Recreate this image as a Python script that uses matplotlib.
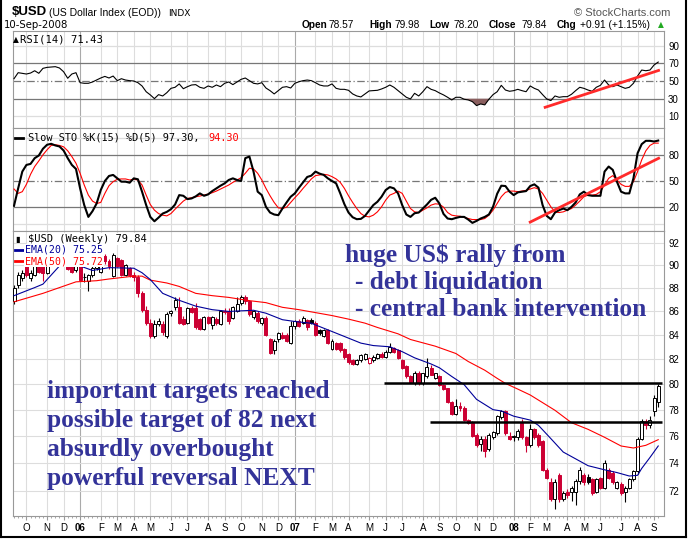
import numpy as np
import pandas as pd
import matplotlib
matplotlib.use("Agg")
import matplotlib.pyplot as plt
from matplotlib.lines import Line2D
from matplotlib.ticker import FixedLocator, FixedFormatter, NullLocator

# weekly $USD candles, week of 12-Sep-2005 .. week of 8-Sep-2008
opens = [86.8, 88.25, 88.8, 90.0, 88.8, 89.1, 90.0, 90.0, 89.3, 90.8,
         91.7, 91.9, 90.9, 90.2, 89.9, 89.5, 91.1, 88.9, 88.55, 89.1,
         89.7, 89.4, 90.8, 90.3, 89.0, 90.6, 90.45, 89.1, 89.7, 89.1,
         88.9, 87.5, 86.1, 85.0, 83.9, 84.9, 84.9, 83.9, 85.8, 86.3,
         86.3, 85.3, 85.0, 86.2, 86.2, 85.3, 84.5, 85.5, 84.8, 85.3,
         84.9, 86.0, 86.0, 85.4, 86.0, 86.7, 87.2, 86.8, 85.5, 85.8,
         85.0, 85.4, 83.6, 82.7, 83.6, 84.0, 84.0, 83.3, 84.7, 85.1,
         85.0, 85.2, 85.2, 85.0, 84.4, 83.9, 84.4, 82.8, 83.3, 83.3,
         82.8, 82.4, 81.9, 81.6, 81.9, 82.0, 81.7, 81.95, 82.1, 82.45,
         82.2, 82.6, 82.9, 82.7, 81.95, 81.4, 80.6, 80.05, 80.9, 80.05,
         80.6, 81.3, 80.45, 80.6, 79.9, 79.65, 78.6, 77.7, 78.3, 78.1,
         77.2, 77.0, 76.1, 75.4, 75.8, 75.0, 75.9, 76.2, 77.4, 77.9,
         76.0, 75.95, 75.9, 77.0, 75.9, 75.35, 76.5, 76.1, 75.6, 73.5,
         72.6, 71.4, 73.1, 71.4, 71.9, 71.9, 71.9, 72.7, 73.1, 73.0,
         72.8, 71.9, 72.9, 72.2, 73.5, 73.3, 72.2, 72.5, 71.9, 72.2,
         72.8, 73.4, 75.8, 77.1, 76.8, 77.9, 78.57]
highs = [88.2, 89.4, 89.5, 90.2, 89.5, 90.8, 90.5, 90.2, 91.0, 91.9,
         92.6, 92.1, 91.1, 90.4, 90.3, 91.3, 91.2, 89.3, 89.2, 89.9,
         90.45, 90.9, 91.0, 90.5, 91.05, 90.7, 90.5, 90.1, 89.8, 89.4,
         89.1, 87.7, 86.4, 85.3, 85.2, 85.4, 85.1, 85.9, 86.1, 87.2,
         87.2, 85.6, 86.3, 86.4, 86.7, 85.4, 85.6, 85.6, 85.6, 85.5,
         86.1, 86.2, 86.2, 86.4, 87.2, 87.4, 87.4, 86.9, 86.1, 86.0,
         85.5, 85.6, 83.7, 83.6, 84.2, 84.2, 84.1, 85.1, 85.2, 85.3,
         85.6, 85.3, 85.4, 85.1, 84.5, 84.5, 84.5, 83.6, 83.4, 83.4,
         82.9, 82.5, 82.0, 82.0, 82.4, 82.5, 82.2, 82.3, 82.5, 82.6,
         82.7, 83.3, 83.0, 82.8, 82.0, 81.5, 80.7, 81.0, 81.0, 80.9,
         82.1, 81.5, 80.9, 80.7, 80.0, 79.7, 78.7, 78.8, 78.6, 78.3,
         77.3, 77.1, 76.2, 76.0, 76.0, 76.2, 76.4, 77.6, 78.0, 78.0,
         76.3, 76.1, 76.5, 77.3, 76.0, 76.9, 76.6, 76.2, 75.7, 73.6,
         72.9, 72.8, 73.3, 72.0, 72.1, 72.3, 72.8, 73.7, 73.3, 73.2,
         72.9, 72.9, 73.0, 74.2, 73.6, 73.4, 72.7, 72.6, 72.3, 72.9,
         73.5, 75.9, 77.3, 77.3, 77.5, 79.1, 79.98]
lows = [86.6, 88.0, 88.6, 88.9, 88.6, 89.0, 89.3, 88.55, 89.2, 90.6,
        91.3, 90.7, 89.9, 89.5, 89.3, 89.4, 88.6, 88.5, 87.7, 88.9,
        89.5, 89.3, 90.1, 89.6, 88.9, 89.8, 89.0, 89.0, 88.9, 88.6,
        87.2, 85.9, 84.8, 83.7, 83.7, 84.7, 84.0, 83.7, 85.6, 86.1,
        84.9, 84.8, 84.9, 85.8, 84.5, 84.4, 84.4, 84.9, 84.5, 84.8,
        84.8, 85.7, 84.9, 85.3, 85.9, 86.5, 86.6, 85.6, 85.3, 85.0,
        84.8, 83.9, 82.4, 82.4, 83.4, 83.6, 83.4, 83.2, 84.5, 84.6,
        84.9, 84.4, 84.9, 83.9, 84.0, 83.8, 83.2, 82.7, 82.7, 82.6,
        82.0, 81.6, 81.5, 81.5, 81.8, 81.9, 81.6, 81.8, 82.0, 82.1,
        82.1, 82.5, 82.5, 82.0, 81.2, 80.5, 80.1, 79.95, 79.95, 79.9,
        80.5, 80.7, 80.4, 79.85, 79.5, 78.5, 77.6, 77.6, 77.9, 77.1,
        76.9, 75.9, 75.2, 74.9, 74.4, 74.9, 75.8, 76.1, 77.3, 76.1,
        75.7, 75.6, 75.7, 75.8, 74.8, 75.2, 75.8, 75.2, 73.4, 72.8,
        71.3, 70.7, 71.2, 71.3, 71.5, 71.3, 71.0, 72.5, 72.4, 72.5,
        71.7, 71.8, 72.1, 72.1, 72.8, 72.5, 72.1, 71.7, 71.2, 72.1,
        72.7, 73.2, 75.7, 76.5, 76.6, 77.5, 78.2]
closes = [88.0, 89.1, 89.3, 89.1, 89.3, 90.45, 89.4, 89.3, 90.8, 91.7,
          91.9, 90.9, 90.2, 89.6, 89.4, 91.1, 88.7, 88.9, 89.1, 89.7,
          90.2, 90.8, 90.3, 89.9, 90.9, 89.9, 89.1, 90.0, 89.1, 88.9,
          87.5, 86.1, 85.0, 83.9, 84.9, 85.1, 84.2, 85.7, 86.0, 86.9,
          85.0, 84.9, 86.2, 85.9, 84.6, 84.5, 85.5, 85.0, 85.5, 85.0,
          86.0, 85.9, 85.1, 86.3, 86.6, 87.2, 86.8, 85.7, 86.0, 85.1,
          85.4, 84.0, 82.5, 83.5, 84.1, 83.7, 83.5, 84.7, 85.1, 84.7,
          85.4, 84.6, 85.0, 84.0, 84.1, 84.4, 83.3, 83.5, 82.8, 82.7,
          82.15, 81.8, 81.6, 81.9, 82.3, 82.4, 82.1, 82.2, 82.4, 82.2,
          82.6, 83.0, 82.6, 82.1, 81.3, 80.6, 80.2, 80.9, 80.05, 80.85,
          81.35, 80.75, 80.85, 79.9, 79.6, 78.6, 77.7, 78.3, 78.1, 77.2,
          77.0, 76.0, 75.3, 75.8, 74.9, 76.05, 76.3, 77.5, 77.9, 76.2,
          75.8, 75.9, 76.4, 75.9, 75.35, 76.5, 75.9, 75.35, 73.5, 72.9,
          71.4, 72.6, 71.4, 71.8, 71.7, 72.2, 72.7, 73.5, 72.6, 72.6,
          71.8, 72.8, 72.2, 74.0, 72.9, 72.6, 72.6, 71.8, 72.2, 72.8,
          73.4, 75.8, 77.1, 76.8, 77.2, 78.9, 79.84]

# moving averages (bar number, value)
ema20_bar = [0, 5, 7, 11, 14, 16, 19, 23, 29, 31, 33, 36, 38, 40, 44, 48, 52, 55, 58,
             61, 65, 68, 72, 76, 80, 84, 87, 91, 94, 97, 101, 103, 106, 109, 112, 116,
             118, 121, 125, 127, 130, 133, 136, 139, 143, 146, 149, 151, 152, 154, 156]
ema20_val = [87.3, 88.0, 88.3, 89.9, 90.0, 89.9, 89.5, 89.75, 89.7, 89.3, 88.7, 87.5,
             87.2, 86.9, 86.4, 86.1, 85.95, 86.0, 86.05, 85.8, 85.25, 85.1, 84.95, 84.4,
             83.85, 83.3, 83.1, 83.0, 82.6, 82.1, 81.6, 81.3, 80.6, 79.95, 78.8, 78.0,
             77.9, 77.5, 77.2, 76.8, 75.8, 74.8, 74.3, 73.8, 73.5, 73.3, 73.05, 73.1,
             73.6, 74.4, 75.25]
ema50_bar = [0, 7, 15, 20, 23, 29, 31, 33, 37, 40, 44, 48, 52, 57, 61, 65, 69, 73, 77,
             81, 85, 88, 93, 96, 102, 107, 110, 114, 117, 119, 122, 125, 131, 135, 139,
             143, 147, 150, 153, 156]
ema50_val = [86.77, 87.5, 88.5, 88.6, 88.75, 89.0, 89.0, 88.65, 88.4, 88.1, 87.5, 87.3,
             87.15, 86.87, 86.7, 86.3, 86.1, 85.85, 85.6, 85.3, 84.96, 84.6, 84.07, 83.6,
             83.05, 82.45, 81.8, 81.1, 80.45, 80.05, 79.6, 79.14, 77.95, 77.0, 76.5,
             75.9, 75.25, 75.1, 75.3, 75.72]

rsi = [52.6, 59.4, 58.7, 57.9, 59.0, 61.6, 58.7, 64.3, 65.4, 65.8,
       66.2, 64.7, 60.5, 53.1, 57.9, 59.4, 48.1, 47.4, 47.4, 48.9,
       51.1, 53.4, 55.2, 53.4, 55.6, 50.4, 52.6, 51.1, 50.4, 50.0,
       48.1, 44.4, 37.9, 34.3, 30.1, 34.6, 33.1, 36.8, 41.7, 42.9,
       46.7, 41.3, 43.6, 45.5, 45.9, 42.9, 41.7, 44.4, 42.9, 45.5,
       43.6, 47.4, 48.9, 45.9, 48.9, 51.9, 53.4, 50.4, 47.4, 46.7,
       48.1, 42.1, 39.1, 35.4, 39.1, 42.9, 43.6, 42.1, 47.4, 49.2,
       50.4, 51.1, 50.4, 48.1, 45.5, 44.4, 44.4, 46.7, 41.7, 40.6,
       40.6, 39.5, 35.4, 33.1, 32.0, 35.4, 38.8, 39.1, 39.5, 41.0,
       42.9, 45.5, 42.9, 39.1, 35.4, 31.6, 29.7, 36.1, 33.1, 37.9,
       43.6, 40.6, 39.1, 36.5, 34.3, 31.6, 28.6, 31.6, 31.6, 29.4,
       28.6, 26.7, 22.2, 24.1, 23.0, 29.4, 34.6, 37.9, 45.1, 39.8,
       38.4, 39.1, 40.6, 39.1, 37.9, 44.4, 41.7, 39.8, 34.6, 29.7,
       27.9, 33.1, 31.6, 32.3, 32.3, 35.0, 39.1, 42.9, 41.7, 39.8,
       38.4, 42.9, 45.1, 51.1, 45.5, 43.6, 45.5, 43.6, 41.7, 42.9,
       47.4, 55.6, 62.4, 61.6, 62.4, 68.1, 71.43]

sto_k = [21.0, 41.4, 61.0, 68.8, 70.0, 76.7, 79.8, 87.7, 92.4, 93.5,
         91.6, 90.4, 85.7, 76.7, 68.8, 64.1, 41.4, 21.8, 8.0, 14.7,
         23.7, 39.4, 50.0, 55.9, 57.1, 53.1, 49.2, 49.2, 48.0, 53.1,
         52.0, 37.5, 21.8, 8.0, 2.9, 7.2, 11.9, 13.9, 17.0, 22.5,
         33.5, 32.7, 28.8, 29.6, 32.0, 35.5, 32.7, 34.3, 38.2, 41.4,
         44.5, 47.2, 51.2, 53.1, 51.2, 50.0, 76.7, 78.6, 61.0, 37.5,
         33.5, 19.8, 13.1, 10.8, 10.0, 17.8, 24.9, 31.6, 35.5, 42.2,
         48.4, 54.7, 56.3, 61.0, 58.6, 57.1, 53.1, 50.0, 47.2, 35.5,
         22.9, 13.1, 7.6, 5.3, 5.7, 9.2, 15.5, 21.8, 25.7, 31.6,
         39.4, 42.9, 41.4, 35.5, 21.8, 10.8, 8.0, 12.3, 13.1, 17.8,
         22.5, 28.0, 30.4, 23.7, 11.5, 6.1, 5.3, 6.8, 8.0, 8.0,
         4.9, 1.0, 3.3, 6.1, 8.0, 10.8, 19.8, 35.1, 44.5, 44.1,
         37.5, 33.5, 36.7, 37.5, 38.2, 44.1, 46.1, 42.2, 21.8, 9.2,
         5.3, 13.1, 15.9, 17.8, 15.9, 19.8, 24.9, 34.3, 37.5, 33.5,
         32.7, 32.7, 32.7, 61.0, 66.9, 63.0, 49.2, 37.5, 35.5, 35.5,
         53.1, 82.5, 93.1, 97.0, 97.0, 96.2, 97.3]
sto_d = [40.6, 35.5, 37.5, 46.1, 57.8, 66.9, 73.5, 80.6, 86.5, 91.6,
         92.4, 91.6, 90.0, 85.3, 78.6, 70.8, 59.0, 45.3, 33.5, 26.5,
         23.7, 24.9, 35.5, 44.5, 49.2, 52.0, 52.4, 52.4, 51.2, 52.0,
         51.2, 45.3, 33.5, 22.5, 15.9, 11.9, 10.0, 9.2, 11.9, 17.0,
         21.8, 26.5, 29.6, 30.4, 31.6, 32.4, 33.5, 34.7, 36.3, 38.2,
         40.6, 42.9, 45.3, 48.4, 51.2, 53.9, 59.0, 64.9, 64.1, 59.0,
         51.2, 41.4, 32.7, 24.9, 18.6, 17.8, 19.4, 24.9, 30.4, 35.5,
         41.4, 46.9, 52.4, 56.3, 57.1, 57.8, 57.1, 55.1, 52.4, 48.4,
         41.4, 32.7, 24.9, 17.8, 11.9, 8.8, 8.0, 10.0, 13.9, 19.8,
         27.6, 33.5, 35.5, 38.2, 35.5, 26.5, 17.8, 13.9, 13.1, 15.9,
         18.6, 21.8, 23.3, 22.9, 19.4, 13.1, 10.0, 9.2, 8.8, 7.6,
         6.1, 4.9, 4.9, 4.9, 6.1, 10.0, 15.9, 23.7, 31.6, 36.7,
         38.2, 38.2, 37.5, 38.2, 39.0, 40.6, 42.2, 40.6, 35.5, 27.6,
         19.8, 13.9, 13.1, 13.9, 15.9, 17.8, 21.8, 26.5, 31.6, 33.5,
         33.5, 34.3, 37.5, 45.3, 53.1, 56.3, 51.2, 46.1, 43.7, 43.7,
         49.2, 61.0, 74.7, 85.3, 91.6, 94.3, 94.3]

# hand drawn lines on the chart (bar, value)
rsi_trend = ([128.3, 156.4], [19.8, 62.4])
sto_trend = ([124.7, 156.4], [1.2, 77.3])
target_lines = [(80.05, 89.6), (77.05, 100.7)]   # level, first bar

W, H = 688, 539
RED = "#cc0033"
NOTE = "#333399"
SANS = "Liberation Sans"
MONO = "DejaVu Sans Mono"


def fx(x):
    return x / W


def fy(y):
    return 1 - y / H


o, hi, lo, c = map(np.array, (opens, highs, lows, closes))
n = len(c)
x = np.arange(n)
weeks = pd.date_range("2005-09-12", periods=n, freq="W-MON")
month_pos = [i for i in range(1, n) if weeks[i].month != weeks[i - 1].month]
month_lbl = ["%02d" % (weeks[i].year % 100) if weeks[i].month == 1
             else "JFMAMJJASOND"[weeks[i].month - 1] for i in month_pos]

fig = plt.figure(figsize=(W / 100, H / 100), dpi=100)
L, R = 13, 664
ax_rsi = fig.add_axes([fx(L), fy(128), (R - L) / W, (128 - 31) / H])
ax_sto = fig.add_axes([fx(L), fy(231), (R - L) / W, (231 - 128) / H])
ax_px = fig.add_axes([fx(L), fy(516), (R - L) / W, (516 - 231) / H])

for ax in (ax_rsi, ax_sto, ax_px):
    ax.set_xlim(-0.25, 157.4)
    for p in month_pos:
        ax.axvline(p, color="#aaaaaa" if weeks[p].month == 1 else "#dddddd",
                   lw=0.8, zorder=0)
    for s in ax.spines.values():
        s.set_color("#999999")
        s.set_linewidth(0.8)
    ax.yaxis.tick_right()
    ax.tick_params(axis="y", length=0, pad=3, labelsize=7)
    ax.set_xticks(month_pos)
    ax.tick_params(axis="x", length=0, labelbottom=False)

# RSI panel
ax_rsi.set_ylim(-3.1, 106.5)
for lvl, col, ls in ((10, "#dddddd", "-"), (90, "#dddddd", "-"), (30, "#777777", "-"),
                     (70, "#777777", "-"), (50, "#777777", (0, (6, 2, 1, 2)))):
    ax_rsi.axhline(lvl, color=col, lw=0.9, ls=ls, zorder=1)
r = np.array(rsi)
ax_rsi.fill_between(x, r, 30, where=r < 30, interpolate=True, color="#8a5f5f", lw=0, zorder=2)
ax_rsi.fill_between(x, r, 70, where=r > 70, interpolate=True, color="#8a5f5f", lw=0, zorder=2)
ax_rsi.plot(x, r, color="black", lw=0.8, zorder=3)
ax_rsi.plot(*rsi_trend, color="#ff2a2a", lw=2, solid_capstyle="butt", zorder=4)
ax_rsi.yaxis.set_major_locator(FixedLocator([10, 30, 50, 70, 90]))
ax_rsi.yaxis.set_major_formatter(FixedFormatter(["10", "30", "50", "70", "90"]))

# Slow stochastic panel
ax_sto.set_ylim(-8.5, 112)
for lvl, col, ls in ((0, "#dddddd", "-"), (100, "#dddddd", "-"), (20, "#777777", "-"),
                     (80, "#777777", "-"), (50, "#777777", (0, (6, 2, 1, 2)))):
    ax_sto.axhline(lvl, color=col, lw=0.9, ls=ls, zorder=1)
ax_sto.plot(x, sto_d, color="#ff0000", lw=0.8, zorder=3)
ax_sto.plot(x, sto_k, color="black", lw=1.5, zorder=4)
ax_sto.plot(*sto_trend, color="#ff2a2a", lw=2, solid_capstyle="butt", zorder=5)
ax_sto.yaxis.set_major_locator(FixedLocator([20, 50, 80]))
ax_sto.yaxis.set_major_formatter(FixedFormatter(["20", "50", "80"]))

# price panel
ax_px.set_yscale("log")
ax_px.set_ylim(70.22, 93.06)
levels = list(range(72, 93, 2))
for lvl in levels:
    ax_px.axhline(lvl, color="#dddddd", lw=0.8, zorder=0)
ax_px.yaxis.set_major_locator(FixedLocator(levels))
ax_px.yaxis.set_major_formatter(FixedFormatter([str(v) for v in levels]))
ax_px.yaxis.set_minor_locator(NullLocator())
ax_px.tick_params(axis="y", which="both", length=0, pad=3, labelsize=7)

prev = np.r_[o[0], c[:-1]]
edge = np.where(c >= prev, "black", RED)
face = np.where(c >= o, "white", edge)
ax_px.vlines(x, lo, hi, colors=edge, lw=0.8, zorder=2)
body = np.maximum(np.abs(c - o), 0.06)
ax_px.bar(x, body, bottom=np.minimum(o, c), width=0.72, color=face,
          edgecolor=edge, lw=0.7, zorder=3)
ax_px.plot(ema50_bar, ema50_val, color="#ff0000", lw=0.8, zorder=4)
ax_px.plot(ema20_bar, ema20_val, color="#000099", lw=0.8, zorder=4)
for lvl, start in target_lines:
    ax_px.hlines(lvl, start, 157, color="black", lw=1.8, zorder=5)

ax_px.set_xticks(x, minor=True)
ax_px.tick_params(axis="x", which="minor", length=1.5, color="#999999")
ax_px.tick_params(axis="x", which="major", length=3, color="#999999",
                  labelbottom=True, labelsize=7, pad=2)
ax_px.set_xticklabels(month_lbl)
for t, i in zip(ax_px.get_xticklabels(), month_pos):
    if weeks[i].month == 1:
        t.set_fontweight("bold")

for ax in (ax_rsi, ax_sto, ax_px):
    for t in ax.get_yticklabels() + ax.get_xticklabels():
        t.set_family(SANS)

# header
fig.text(fx(12), fy(12), "$USD", fontsize=9.5, fontweight="bold", family=SANS, va="center")
fig.text(fx(49), fy(13), "(US Dollar Index (EOD))", fontsize=7.5, family=SANS, va="center")
fig.text(fx(168), fy(13), "INDX", fontsize=6.5, family="DejaVu Sans", va="center")
fig.text(fx(4), fy(25), "10-Sep-2008", fontsize=7.3, family="DejaVu Sans", va="center")
fig.text(fx(574), fy(13), "\u00a9 StockCharts.com", fontsize=8, family=SANS,
         color="#555555", va="center")
quote = [("Open", 302, True), ("78.57", 329, False), ("High", 369, True),
         ("79.98", 395, False), ("Low", 429, True), ("78.20", 454, False),
         ("Close", 489, True), ("79.84", 522, False), ("Chg", 557, True),
         ("+0.91 (+1.15%)", 580, False)]
for txt, xp, bold in quote:
    fig.text(fx(xp), fy(25), txt, fontsize=7.3, family=SANS, va="center",
             fontweight="bold" if bold else "normal")
fig.text(fx(658), fy(25), "\u25b2", fontsize=5.5, color="#22aa22", va="center",
         family="DejaVu Sans")

# panel labels
fig.text(fx(13), fy(40), "\u25b2", fontsize=5.5, family="DejaVu Sans", va="center")
fig.text(fx(20), fy(40), "RSI(14) 71.43", fontsize=7.6, family=MONO, va="center")
fig.add_artist(Line2D([fx(15), fx(23)], [fy(138), fy(138)], color="black", lw=2))
fig.text(fx(28), fy(138), "Slow STO %K(15) %D(5) 97.30, ", fontsize=7.4, family=MONO,
         va="center")
fig.text(fx(208), fy(138), "94.30", fontsize=7.4, family=MONO, va="center", color="red")

box = dict(facecolor="white", edgecolor="none", pad=0.5)
fig.text(fx(15), fy(239), "\u25ae", fontsize=6, family="DejaVu Sans", va="center")
fig.text(fx(28), fy(239), "$USD (Weekly) 79.84", fontsize=7.5, family=MONO,
         va="center", bbox=box)
fig.text(fx(25), fy(250), "EMA(20) 75.25", fontsize=7.1, family=MONO, va="center",
         color="#000099", bbox=box)
fig.text(fx(25), fy(261), "EMA(50) 75.72", fontsize=7.1, family=MONO, va="center",
         color="red", bbox=box)
fig.add_artist(Line2D([fx(15), fx(23)], [fy(250), fy(250)], color="#000099", lw=2))
fig.add_artist(Line2D([fx(15), fx(23)], [fy(261), fy(261)], color="red", lw=2))

# comments on the chart
notes = [("huge US$ rally from", 345, 262), ("- debt liquidation", 355, 289),
         ("- central bank intervention", 355, 316),
         ("important targets reached", 47, 398), ("possible target of 82 next", 47, 427),
         ("absurdly overbought", 47, 456), ("powerful reversal NEXT", 47, 485)]
for txt, xp, yp in notes:
    fig.text(fx(xp), fy(yp), txt, fontsize=18.3, family="Liberation Serif",
             fontweight="bold", color=NOTE, va="baseline")

# outer frame
for xs, ys in (([1, 1], [0, 537]), ([686, 686], [0, 537]), ([1, 686], [537, 537])):
    fig.add_artist(Line2D([fx(v) for v in xs], [fy(v) for v in ys], color="black", lw=1.5))

fig.savefig("out.png", dpi=100)
